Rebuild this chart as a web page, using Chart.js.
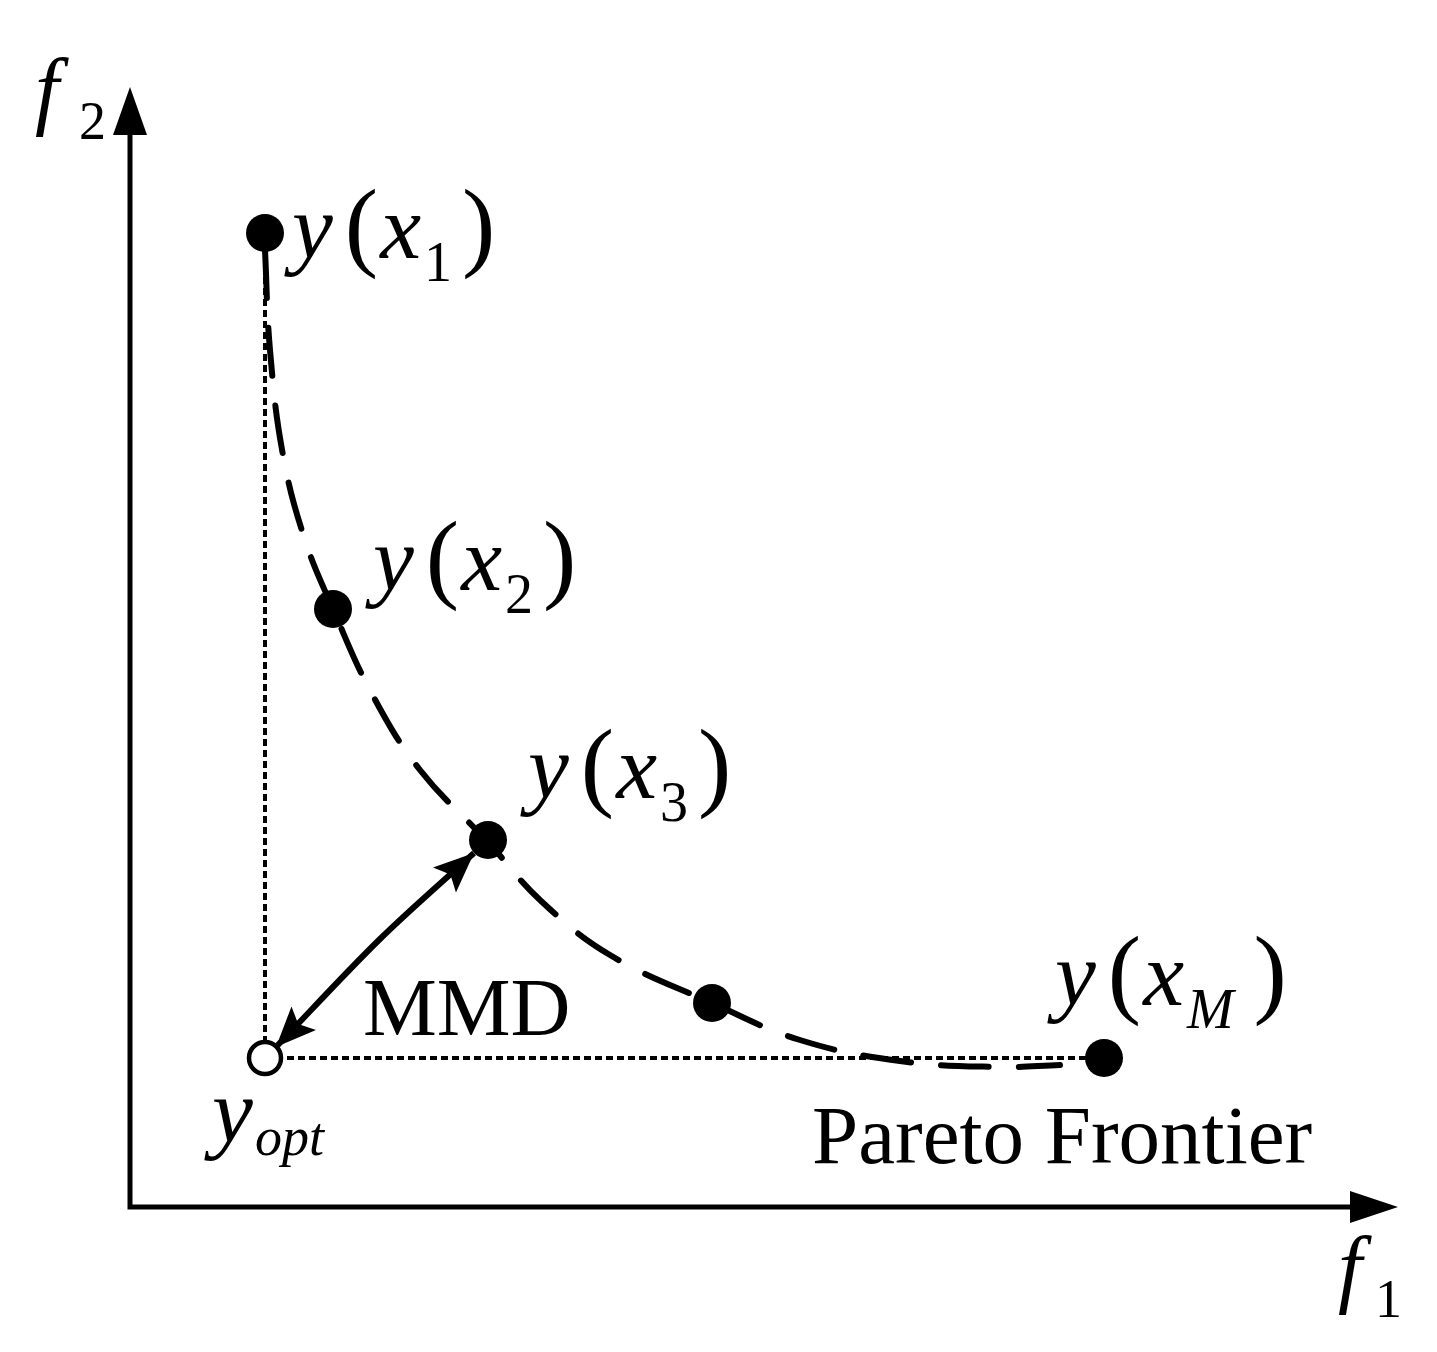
<!DOCTYPE html>
<html>
<head>
<meta charset="utf-8">
<script src="https://cdn.jsdelivr.net/npm/chart.js@4/dist/chart.umd.min.js"></script>
<style>
  body { margin: 0; background: #fff; }
</style>
</head>
<body>
<canvas id="grafico" width="1437" height="1352"></canvas>
<script>
// solutions on the frontier
const solX = [1.35, 2.03, 3.58, 5.82, 9.74];
const solY = [9.74, 5.98, 3.67, 2.04, 1.49];
const solSub = ['1', '2', '3', null, 'M'];
// where each y(x_k) label sits (data coords)
const labelX = [1.62, 2.43, 3.98, null, 9.25];
const labelY = [9.49, 6.17, 4.09, null, 2.02];

// ideal point
const optPoint = [1.35, 1.49];

// dashed pareto frontier
const frontierX = [1.35, 1.40, 1.53, 1.75, 2.03, 2.42, 2.90, 3.58, 4.10, 4.80, 5.82, 6.70, 7.70, 8.70, 9.30];
const frontierY = [9.57, 8.57, 7.52, 6.67, 5.98, 5.13, 4.37, 3.65, 3.07, 2.52, 2.04, 1.67, 1.46, 1.40, 1.42];

// MMD double arrow
const mmdX = [1.46, 2.50, 3.44];
const mmdY = [1.60, 2.68, 3.54];

// axis ends
const xAxisEnd = 12.68;
const yAxisEnd = 11.20;

const serif = '"Liberation Serif", "Times New Roman", serif';

const toPts = (xs, ys) => xs.map((x, i) => ({ x: x, y: ys[i] }));

function arrowHead(ctx, tx, ty, fx, fy, len, half, notch) {
    const a = Math.atan2(ty - fy, tx - fx);
    const c = Math.cos(a), s = Math.sin(a);
    const bx = tx - c * len, by = ty - s * len;
    ctx.beginPath();
    ctx.moveTo(tx, ty);
    ctx.lineTo(bx - s * half, by + c * half);
    ctx.lineTo(tx - c * len * notch, ty - s * len * notch);
    ctx.lineTo(bx + s * half, by - c * half);
    ctx.closePath();
    ctx.fill();
}

// y(x_k) with upright parentheses and a subscript
function drawSolLabel(ctx, x0, base, sub) {
    let pos = x0;
    ctx.font = `italic 92px ${serif}`;
    ctx.fillText('y', pos, base);
    pos += ctx.measureText('y').width + 12;
    ctx.font = `100px ${serif}`;
    ctx.fillText('(', pos, base);
    pos += ctx.measureText('(').width + 2;
    ctx.font = `italic 92px ${serif}`;
    ctx.fillText('x', pos, base);
    pos += ctx.measureText('x').width + 3;
    const italicSub = isNaN(Number(sub));
    ctx.font = (italicSub ? 'italic ' : '') + `56px ${serif}`;
    ctx.fillText(sub, pos, base + 23);
    pos += ctx.measureText(sub).width + (italicSub ? 20 : 10);
    ctx.font = `100px ${serif}`;
    ctx.fillText(')', pos, base);
}

const extras = {
    id: 'extras',
    afterDatasetsDraw(chart) {
        const ctx = chart.ctx;
        const xs = chart.scales.x, ys = chart.scales.y;
        const X = (v) => xs.getPixelForValue(v);
        const Y = (v) => ys.getPixelForValue(v);
        ctx.save();
        ctx.fillStyle = '#000';
        ctx.strokeStyle = '#000';

        // axes with arrows
        ctx.lineWidth = 5;
        ctx.beginPath();
        ctx.moveTo(X(0), Y(0) + 2.5);
        ctx.lineTo(X(0), Y(yAxisEnd) + 30);
        ctx.moveTo(X(0) - 2.5, Y(0));
        ctx.lineTo(X(xAxisEnd) - 30, Y(0));
        ctx.stroke();
        arrowHead(ctx, X(0), Y(yAxisEnd), X(0), Y(0), 48, 17, 1);
        arrowHead(ctx, X(xAxisEnd), Y(0), X(0), Y(0), 48, 16, 1);

        // MMD arrow heads
        const n = mmdX.length;
        arrowHead(ctx, X(mmdX[n - 1]), Y(mmdY[n - 1]), X(mmdX[n - 2]), Y(mmdY[n - 2]), 40, 17, 0.8);
        arrowHead(ctx, X(mmdX[0]), Y(mmdY[0]), X(mmdX[1]), Y(mmdY[1]), 40, 17, 0.8);

        ctx.textBaseline = 'alphabetic';
        ctx.textAlign = 'left';

        // axis names
        ctx.font = `italic 86px ${serif}`;
        ctx.fillText('f', X(-0.95), Y(10.89));
        ctx.fillText('f', X(12.08), Y(-0.89));
        ctx.font = `54px ${serif}`;
        ctx.fillText('2', X(-0.51), Y(10.68));
        ctx.fillText('1', X(12.45), Y(-1.10));

        // solution labels
        solSub.forEach((sub, i) => {
            if (sub === null) return;
            drawSolLabel(ctx, X(labelX[i]), Y(labelY[i]), sub);
        });

        // y_opt
        ctx.font = `italic 92px ${serif}`;
        ctx.fillText('y', X(0.82), Y(0.65));
        ctx.font = `italic 54px ${serif}`;
        ctx.fillText('opt', X(1.25), Y(0.52));

        ctx.font = `83px ${serif}`;
        ctx.fillText('MMD', X(2.33), Y(1.72));
        ctx.fillText('Pareto Frontier', X(6.82), Y(0.44));

        ctx.restore();
    }
};

const config = {
    type: 'scatter',
    data: {
        datasets: [
            {
                label: 'solutions',
                data: toPts(solX, solY),
                pointRadius: 19,
                pointBackgroundColor: '#000',
                pointBorderWidth: 0,
                showLine: false,
                order: 0
            },
            {
                label: 'ideal',
                data: [{ x: optPoint[0], y: optPoint[1] }],
                pointRadius: 16,
                pointBackgroundColor: '#fff',
                pointBorderColor: '#000',
                pointBorderWidth: 4.5,
                showLine: false,
                order: 0
            },
            {
                label: 'frontier',
                data: toPts(frontierX, frontierY),
                showLine: true,
                borderColor: '#000',
                borderWidth: 6,
                borderDash: [48, 30],
                borderCapStyle: 'round',
                tension: 0.4,
                pointRadius: 0,
                order: 2
            },
            {
                label: 'guide vertical',
                data: [{ x: solX[0], y: solY[0] }, { x: optPoint[0], y: optPoint[1] }],
                showLine: true,
                borderColor: '#000',
                borderWidth: 4,
                borderDash: [7, 4],
                pointRadius: 0,
                order: 3
            },
            {
                label: 'guide horizontal',
                data: [{ x: optPoint[0], y: optPoint[1] }, { x: solX[4], y: solY[4] }],
                showLine: true,
                borderColor: '#000',
                borderWidth: 4,
                borderDash: [7, 4],
                pointRadius: 0,
                order: 3
            },
            {
                label: 'MMD',
                data: toPts(mmdX, mmdY),
                showLine: true,
                borderColor: '#000',
                borderWidth: 6,
                cubicInterpolationMode: 'monotone',
                pointRadius: 0,
                order: 1
            }
        ]
    },
    options: {
        responsive: false,
        animation: false,
        layout: { padding: { left: 130, right: 39, top: 87, bottom: 145 } },
        plugins: {
            legend: { display: false },
            tooltip: { enabled: false }
        },
        scales: {
            x: { type: 'linear', min: 0, max: xAxisEnd, display: false },
            y: { type: 'linear', min: 0, max: yAxisEnd, display: false }
        }
    },
    plugins: [extras]
};

let myChart = new Chart(document.getElementById('grafico'), config);
</script>
</body>
</html>
